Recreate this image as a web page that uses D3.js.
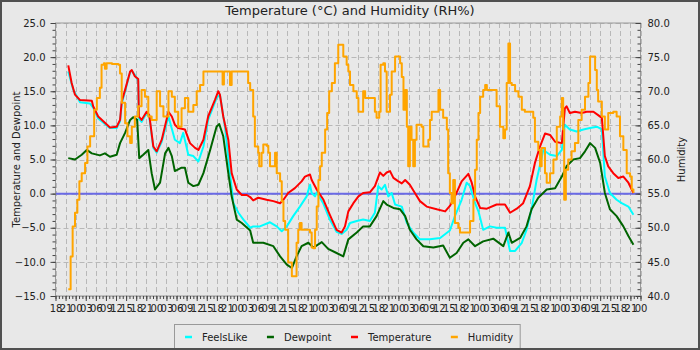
<!DOCTYPE html>
<html>
<head>
<meta charset="utf-8">
<script src="https://cdn.jsdelivr.net/npm/d3@7"></script>
<style>
  html, body { margin: 0; padding: 0; background: #e8e8e8; }
  svg { display: block; font-family: "DejaVu Sans", sans-serif; }
</style>
</head>
<body>
<svg id="chart" width="700" height="350"></svg>
<script>
// Observation window: starts at 18:00, runs 174 hours
const startTime = new Date(2021, 0, 10, 18, 0, 0);
const spanHours = 174;

const tempTicks = [-15, -10, -5, 0, 5, 10, 15, 20, 25];
const humidTicks = [40, 45, 50, 55, 60, 65, 70, 75, 80];

// [hours since start, value]
const feelsLike = [[3.8,17.9],[5.3,15.2],[7.3,13.4],[10.3,13.2],[11.2,12.6],[12.7,11.0],[14.7,10.2],[16.2,9.6],[18.2,9.6],[19.2,10.6],[19.7,13.2],[20.7,15.0],[22.2,17.8],[22.7,18.0],[23.6,17.4],[24.6,16.5],[24.8,11.0],[25.6,10.5],[27.1,11.8],[27.9,11.2],[29.1,6.7],[30.1,6.0],[31.6,7.6],[33.6,11.3],[35.5,7.9],[37.0,7.4],[38.0,8.9],[39.5,5.7],[41.0,5.5],[42.5,4.7],[44.0,6.9],[45.4,10.8],[47.9,14.0],[48.9,14.5],[50.4,9.8],[51.9,3.0],[52.9,-1.4],[54.4,-2.8],[55.9,-3.8],[57.9,-5.0],[58.8,-4.8],[60.8,-4.8],[63.8,-4.2],[65.8,-4.8],[67.3,-5.5],[68.8,-4.8],[70.7,-3.3],[72.7,-1.9],[74.7,-0.4],[75.7,1.3],[76.2,0.1],[77.2,-0.4],[77.7,0.2],[79.7,-1.5],[81.6,-3.8],[83.6,-5.6],[85.1,-5.9],[86.6,-5.3],[87.6,-4.3],[89.6,-4.0],[91.5,-3.8],[93.5,-4.0],[95.0,-2.8],[96.0,1.1],[97.0,0.6],[98.0,1.3],[99.0,-0.4],[100.0,0.1],[101.0,-1.6],[103.0,-1.9],[104.5,-4.3],[106.4,-5.7],[108.4,-6.7],[111.4,-6.7],[114.4,-6.5],[117.3,-5.4],[118.8,-3.3],[120.8,-0.9],[122.3,1.6],[123.3,1.1],[124.8,-1.4],[125.8,-2.6],[127.2,-5.3],[129.2,-4.8],[131.2,-5.0],[133.7,-5.0],[135.2,-8.4],[136.7,-8.4],[138.7,-7.2],[140.1,-5.3],[141.6,-2.3],[143.1,2.0],[145.1,6.4],[147.1,5.7],[149.1,5.5],[150.6,6.4],[151.5,10.1],[153.0,9.4],[155.0,9.1],[157.0,9.4],[159.0,9.6],[161.0,9.8],[162.5,9.4],[163.4,2.5],[164.9,0.1],[166.9,-0.9],[168.4,-1.4],[170.4,-1.9],[171.9,-3.1]];

const dewpoint = [[3.8,5.2],[5.8,5.0],[7.8,5.7],[9.3,6.4],[10.8,5.9],[13.2,5.6],[14.7,5.9],[16.2,5.4],[18.2,5.7],[19.2,7.4],[20.7,8.9],[22.2,10.8],[23.1,11.2],[24.3,10.8],[24.9,5.2],[26.1,5.7],[27.6,6.4],[28.6,3.0],[29.6,0.6],[31.1,1.6],[32.6,5.9],[33.6,6.7],[34.6,5.5],[35.5,3.3],[37.5,3.8],[38.5,3.8],[39.5,1.6],[41.0,1.1],[42.5,1.3],[44.0,3.0],[46.0,6.4],[47.9,9.8],[48.7,10.2],[49.9,8.4],[51.4,3.0],[52.4,-0.4],[53.9,-3.8],[55.4,-4.3],[57.9,-5.4],[58.8,-7.2],[61.8,-7.2],[64.8,-7.7],[66.8,-9.2],[68.8,-10.4],[70.3,-10.9],[71.7,-9.2],[73.2,-7.7],[75.2,-7.2],[76.7,-7.9],[79.2,-7.1],[81.1,-8.1],[83.6,-8.7],[85.6,-9.2],[87.1,-6.7],[89.6,-5.7],[91.5,-4.8],[93.5,-4.8],[95.5,-3.3],[97.5,-1.1],[98.5,-1.6],[100.5,-2.1],[102.5,-2.3],[104.0,-3.3],[105.4,-5.3],[107.4,-6.7],[109.4,-7.7],[112.4,-7.9],[115.3,-7.6],[117.3,-9.4],[119.3,-8.7],[121.3,-7.2],[122.8,-6.7],[124.8,-7.7],[127.2,-7.0],[130.2,-6.6],[133.2,-7.7],[134.7,-5.7],[135.7,-7.2],[138.2,-6.5],[140.1,-4.8],[141.6,-2.3],[143.6,-0.6],[146.1,0.6],[148.6,0.8],[150.6,2.5],[152.0,4.0],[154.0,5.0],[156.0,5.2],[157.5,6.2],[159.0,7.4],[160.5,6.7],[162.0,4.5],[163.4,0.1],[164.9,-2.3],[166.9,-3.3],[168.9,-4.8],[170.4,-6.2],[171.9,-7.5]];

const temperature = [[3.8,18.8],[4.8,16.2],[5.8,14.5],[7.3,13.7],[10.8,13.6],[11.2,12.8],[12.7,11.3],[14.7,10.4],[16.2,9.7],[18.2,9.8],[19.2,10.8],[19.7,13.5],[20.7,15.2],[22.2,17.9],[22.7,18.1],[23.6,17.2],[24.6,16.8],[24.8,11.3],[25.6,10.8],[27.1,12.0],[27.9,11.5],[29.1,6.9],[30.1,6.2],[31.6,7.9],[33.6,12.0],[34.6,11.3],[35.5,10.1],[36.5,9.6],[38.5,9.4],[40.0,7.4],[41.5,6.7],[42.5,6.4],[44.0,7.9],[45.4,11.3],[47.4,13.7],[48.4,15.0],[48.9,14.5],[49.9,11.3],[51.4,7.9],[52.4,3.0],[53.9,0.6],[55.4,-0.2],[56.9,-0.2],[57.9,-0.5],[58.8,-1.0],[60.3,-0.6],[62.8,-0.9],[64.8,-1.1],[66.8,-1.4],[67.8,-0.9],[69.2,0.1],[71.2,0.8],[73.2,1.8],[74.2,2.5],[75.7,2.8],[76.2,2.0],[77.7,0.6],[79.7,-0.9],[81.6,-3.1],[83.6,-5.3],[85.1,-5.7],[86.1,-4.8],[87.1,-2.6],[88.6,-1.4],[90.1,-0.4],[91.5,0.1],[93.5,0.2],[95.0,1.1],[96.5,3.1],[97.5,2.6],[98.5,3.1],[99.5,3.3],[100.5,2.3],[102.0,1.8],[103.0,1.5],[104.0,2.0],[105.4,1.3],[106.9,0.1],[108.4,-1.1],[110.4,-1.9],[113.4,-2.3],[115.9,-2.6],[117.3,-1.8],[118.8,-0.4],[120.8,1.8],[122.8,2.9],[123.8,1.6],[124.8,-0.4],[126.3,-2.1],[128.3,-2.2],[131.2,-1.6],[133.7,-1.6],[135.2,-2.8],[137.2,-2.2],[139.1,-1.4],[141.1,1.1],[142.6,4.5],[144.1,6.9],[145.6,8.8],[147.1,8.6],[148.6,7.6],[150.6,7.4],[151.5,12.5],[152.0,12.8],[153.0,11.8],[154.5,12.0],[156.5,11.8],[158.0,12.0],[160.0,12.0],[161.4,11.5],[162.5,11.1],[163.4,5.5],[164.4,4.0],[165.9,3.0],[167.4,2.3],[168.9,2.5],[170.4,1.6],[171.9,0.1]];

const humidity = [[3.8,41.0],[4.5,45.8],[5.1,50.2],[5.8,52.2],[6.5,54.1],[7.1,56.8],[7.8,58.0],[8.8,59.5],[9.5,61.9],[10.3,63.4],[11.5,67.3],[12.3,69.0],[13.2,70.5],[13.7,73.9],[14.4,74.1],[14.7,73.3],[15.2,74.1],[16.8,74.0],[18.7,73.9],[19.2,72.6],[19.7,68.3],[20.7,65.3],[21.4,63.4],[22.2,62.4],[22.7,64.8],[23.6,66.3],[24.6,67.8],[25.6,70.2],[26.6,69.2],[27.6,66.3],[28.6,65.8],[30.1,70.0],[31.1,67.8],[32.1,66.3],[33.6,70.0],[34.6,69.2],[35.5,67.0],[36.5,64.8],[37.5,67.5],[38.5,69.0],[39.5,67.0],[41.0,68.0],[42.0,70.0],[43.0,70.9],[44.0,72.9],[49.4,72.9],[49.7,71.0],[50.1,72.9],[51.9,70.9],[52.4,72.9],[56.4,72.9],[57.3,71.2],[57.9,70.2],[58.8,66.3],[59.3,61.9],[60.3,61.0],[60.6,59.0],[61.3,61.0],[61.8,62.2],[62.8,62.0],[63.3,61.0],[63.8,59.0],[65.3,61.0],[65.8,58.0],[66.8,56.8],[67.3,53.9],[67.8,51.0],[68.3,49.7],[69.2,44.9],[70.3,42.9],[71.2,42.9],[71.7,47.8],[72.2,49.7],[72.7,50.7],[73.2,49.7],[75.7,49.3],[76.2,47.1],[76.7,47.0],[77.2,49.7],[77.7,53.1],[78.2,57.0],[78.7,59.0],[79.2,61.0],[80.2,64.4],[80.8,66.8],[81.4,70.0],[82.2,71.2],[83.1,74.1],[84.1,76.8],[85.1,76.8],[85.6,75.1],[86.6,73.9],[87.1,72.9],[87.6,70.9],[88.6,70.0],[89.6,69.0],[90.1,67.0],[91.1,67.0],[91.5,70.0],[92.1,69.0],[94.5,69.0],[95.0,67.0],[95.5,66.1],[96.3,67.0],[96.7,73.9],[97.5,74.1],[98.0,72.9],[98.5,67.0],[99.5,69.5],[100.0,72.9],[101.0,75.1],[102.5,74.1],[103.0,72.1],[103.5,67.3],[104.0,70.2],[104.5,64.8],[104.9,59.0],[105.4,64.8],[105.9,62.9],[106.4,59.0],[106.9,62.9],[107.4,65.1],[108.9,64.8],[109.4,61.9],[110.9,62.9],[111.4,65.8],[111.9,67.0],[113.4,67.0],[113.9,70.2],[114.4,67.3],[115.3,66.1],[116.4,64.4],[116.8,58.0],[117.3,55.1],[117.8,53.6],[118.3,57.0],[118.8,50.7],[119.8,50.0],[120.3,49.3],[122.8,49.3],[123.3,51.0],[124.3,54.1],[124.8,58.5],[125.3,62.9],[125.8,66.8],[126.3,69.2],[127.2,70.2],[127.8,70.9],[128.3,70.2],[130.7,70.2],[131.2,67.8],[132.2,64.8],[133.2,63.1],[133.7,64.4],[134.2,71.2],[134.7,77.0],[135.2,71.2],[135.7,70.9],[136.7,70.0],[137.7,69.2],[138.7,67.3],[139.6,67.0],[142.1,66.1],[142.6,62.6],[143.6,61.4],[144.1,59.0],[144.6,61.7],[145.6,58.0],[146.1,56.6],[147.1,58.0],[148.1,60.0],[149.1,64.8],[150.1,66.3],[150.6,69.0],[151.0,64.4],[151.3,54.1],[151.8,58.5],[152.5,60.0],[153.5,61.2],[154.5,62.4],[155.5,65.8],[156.5,67.3],[157.5,69.2],[158.5,71.2],[159.0,75.1],[160.0,75.1],[160.5,73.1],[161.0,70.2],[161.4,68.5],[162.5,66.3],[163.4,64.4],[164.4,66.8],[165.9,67.0],[166.9,66.3],[167.9,63.4],[168.9,61.4],[169.9,58.0],[170.9,57.5],[171.4,55.6],[171.9,55.1]];

const seriesNames = ["FeelsLike", "Dewpoint", "Temperature", "Humidity"];
const seriesColors = ["#00ffff", "#006400", "#ff0000", "#ffa500"];

const W = 700, H = 350;
const plot = { left: 55.5, right: 640.5, top: 23, bottom: 296 };

const svg = d3.select("#chart");
const toDate = h => new Date(startTime.getTime() + h * 3600e3);

const x = d3.scaleTime()
  .domain([startTime, toDate(spanHours)])
  .range([plot.left, plot.right]);
const y = d3.scaleLinear().domain([-15, 25]).range([plot.bottom, plot.top]);
const y2 = d3.scaleLinear().domain([40, 80]).range([plot.bottom, plot.top]);

// background
svg.append("rect").attr("x", 0).attr("y", 0).attr("width", W).attr("height", H).attr("fill", "#e8e8e8");

// grid
const majorTimes = x.ticks(d3.timeHour.every(3));
const grid = svg.append("g").attr("stroke", "#b8b8b8").attr("stroke-dasharray", "5,3").attr("stroke-width", 1);
grid.selectAll("line.v").data(majorTimes).join("line")
  .attr("x1", d => Math.round(x(d)) + 0.5).attr("x2", d => Math.round(x(d)) + 0.5)
  .attr("y1", plot.top).attr("y2", plot.bottom);
grid.selectAll("line.h").data(tempTicks).join("line")
  .attr("x1", plot.left).attr("x2", plot.right)
  .attr("y1", d => Math.round(y(d)) + 0.5).attr("y2", d => Math.round(y(d)) + 0.5);

// zero reference line
svg.append("line")
  .attr("x1", plot.left).attr("x2", plot.right)
  .attr("y1", y(0)).attr("y2", y(0))
  .attr("stroke", "#6a6ae6").attr("stroke-width", 2);

// series
svg.append("clipPath").attr("id", "plotClip").append("rect")
  .attr("x", plot.left).attr("y", plot.top)
  .attr("width", plot.right - plot.left).attr("height", plot.bottom - plot.top);

const lineT = d3.line().x(d => x(toDate(d[0]))).y(d => y(d[1]));
const lineH = d3.line().x(d => x(toDate(d[0]))).y(d => y2(d[1])).curve(d3.curveStepAfter);

const lines = svg.append("g").attr("clip-path", "url(#plotClip)")
  .attr("fill", "none").attr("stroke-width", 2).attr("stroke-linejoin", "round");
lines.append("path").datum(feelsLike).attr("d", lineT).attr("stroke", seriesColors[0]);
lines.append("path").datum(dewpoint).attr("d", lineT).attr("stroke", seriesColors[1]);
lines.append("path").datum(temperature).attr("d", lineT).attr("stroke", seriesColors[2]);
lines.append("path").datum(humidity).attr("d", lineH).attr("stroke", seriesColors[3]);

// plot frame
svg.append("rect")
  .attr("x", plot.left).attr("y", plot.top)
  .attr("width", plot.right - plot.left).attr("height", plot.bottom - plot.top)
  .attr("fill", "none").attr("stroke", "#999").attr("stroke-width", 1);

function styleAxis(g) {
  g.select(".domain").remove();
  g.selectAll("line").attr("stroke", "#444");
  g.selectAll("text").attr("fill", "#222").attr("font-size", 10).attr("font-family", "DejaVu Sans");
}

// x axis: hourly minor ticks, 3-hour labelled ticks
svg.append("g").attr("transform", `translate(0,${plot.bottom})`)
  .call(d3.axisBottom(x).ticks(d3.timeHour.every(1)).tickSize(3).tickFormat(""))
  .call(styleAxis);
svg.append("g").attr("transform", `translate(0,${plot.bottom})`)
  .call(d3.axisBottom(x).ticks(d3.timeHour.every(3)).tickSize(5).tickPadding(4).tickFormat(d3.timeFormat("%H")))
  .call(styleAxis);

// left axis
const minorTemp = d3.range(-15, 26, 1);
svg.append("g").attr("transform", `translate(${plot.left},0)`)
  .call(d3.axisLeft(y).tickValues(minorTemp).tickSize(3).tickFormat(""))
  .call(styleAxis);
svg.append("g").attr("transform", `translate(${plot.left},0)`)
  .call(d3.axisLeft(y).tickValues(tempTicks).tickSize(5).tickPadding(5).tickFormat(d3.format(".1f")))
  .call(styleAxis);

// right axis (ticks point into the plot)
const minorHum = d3.range(40, 81, 1);
svg.append("g").attr("transform", `translate(${plot.right},0)`)
  .call(d3.axisRight(y2).tickValues(minorHum).tickSize(-3).tickFormat(""))
  .call(styleAxis);
svg.append("g").attr("transform", `translate(${plot.right},0)`)
  .call(d3.axisRight(y2).tickValues(humidTicks).tickSize(-5).tickPadding(7).tickFormat(d3.format(".1f")))
  .call(styleAxis);

// titles
svg.append("text").attr("x", 350).attr("y", 15).attr("text-anchor", "middle")
  .attr("font-size", 13).attr("fill", "#222").text("Temperature (°C) and Humidity (RH%)");
svg.append("text").attr("transform", `translate(20,${(plot.top + plot.bottom) / 2}) rotate(-90)`)
  .attr("text-anchor", "middle").attr("font-size", 10).attr("fill", "#222")
  .text("Temperature and Dewpoint");
svg.append("text").attr("transform", `translate(685,${(plot.top + plot.bottom) / 2}) rotate(-90)`)
  .attr("text-anchor", "middle").attr("font-size", 10).attr("fill", "#222")
  .text("Humidity");

// legend
const legend = svg.append("g");
const legBox = legend.append("rect").attr("x", 174.5).attr("y", 324.5).attr("height", 30)
  .attr("fill", "#e8e8e8").attr("stroke", "#999");
let lx = 185;
seriesNames.forEach((name, i) => {
  legend.append("line").attr("x1", lx).attr("x2", lx + 7).attr("y1", 337).attr("y2", 337)
    .attr("stroke", seriesColors[i]).attr("stroke-width", 2.5);
  const t = legend.append("text").attr("x", lx + 17).attr("y", 340.5)
    .attr("font-size", 10).attr("fill", "#222").text(name);
  lx = lx + 17 + t.node().getComputedTextLength() + 19.5;
});
legBox.attr("width", lx - 19.5 + 7 - 174.5);

// outer border
svg.append("rect").attr("x", 1).attr("y", 1).attr("width", W - 2).attr("height", H - 2)
  .attr("fill", "none").attr("stroke", "#505050").attr("stroke-width", 2);
</script>
</body>
</html>
